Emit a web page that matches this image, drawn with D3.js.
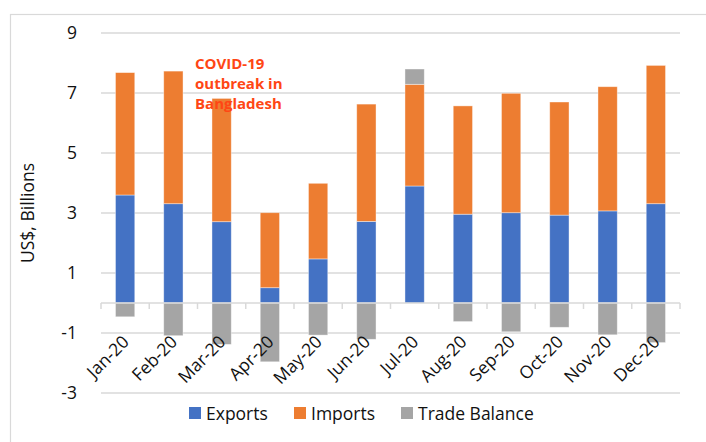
<!DOCTYPE html>
<html>
<head>
<meta charset="utf-8">
<script src="https://cdn.jsdelivr.net/npm/d3@7"></script>
<style>
  body { margin: 0; background: #fff; }
  svg { display: block; font-family: "Open Sans", sans-serif; }
</style>
</head>
<body>
<div id="chart"></div>
<script>
// values (US$ billions)
const months = ["Jan-20", "Feb-20", "Mar-20", "Apr-20", "May-20", "Jun-20",
  "Jul-20", "Aug-20", "Sep-20", "Oct-20", "Nov-20", "Dec-20"];
const exportsVals = [3.60, 3.31, 2.71, 0.51, 1.47, 2.72, 3.90, 2.96, 3.01, 2.93, 3.07, 3.31];
const importsVals = [4.08, 4.42, 4.11, 2.50, 2.52, 3.91, 3.39, 3.61, 3.98, 3.77, 4.14, 4.61];
const balanceVals = [-0.46, -1.09, -1.38, -1.96, -1.07, -1.21, 0.51, -0.62, -0.96, -0.81, -1.06, -1.32];
const yTicks = [-3, -1, 1, 3, 5, 7, 9];
const seriesNames = ["Exports", "Imports", "Trade Balance"];
const colors = ["#4472C4", "#ED7D31", "#A5A5A5"];
const note = ["COVID-19", "outbreak in", "Bangladesh"];

const width = 706, height = 442;
const margin = { left: 101, right: 26, top: 33, bottom: 49 };
const textColor = "#111";

const rows = months.map((m, i) => ({
  month: m,
  Exports: exportsVals[i],
  Imports: importsVals[i],
  "Trade Balance": balanceVals[i]
}));

const svg = d3.select("#chart").append("svg")
  .attr("width", width)
  .attr("height", height);

// outer chart border
svg.append("rect")
  .attr("x", 10.5).attr("y", 14.5)
  .attr("width", 720).attr("height", 460)
  .attr("fill", "none")
  .attr("stroke", "#d9d9d9")
  .attr("stroke-width", 1.2);

const x = d3.scaleBand()
  .domain(months)
  .range([margin.left, width - margin.right])
  .paddingInner(0.6)
  .paddingOuter(0.3);

const y = d3.scaleLinear()
  .domain([-3, 9])
  .range([height - margin.bottom, margin.top]);

// gridlines
svg.append("g")
  .selectAll("line")
  .data(yTicks)
  .join("line")
  .attr("x1", margin.left)
  .attr("x2", width - margin.right)
  .attr("y1", d => y(d))
  .attr("y2", d => y(d))
  .attr("stroke", "#d9d9d9")
  .attr("stroke-width", 1.5);

// y tick labels
svg.append("g")
  .attr("font-size", 17.5)
  .attr("fill", textColor)
  .attr("text-anchor", "end")
  .selectAll("text")
  .data(yTicks)
  .join("text")
  .attr("x", 77)
  .attr("y", d => y(d))
  .attr("dy", "0.36em")
  .text(d => d);

// y title
svg.append("text")
  .attr("transform", `translate(34,${(y(9) + y(-3)) / 2}) rotate(-90)`)
  .attr("text-anchor", "middle")
  .attr("font-size", 17.5)
  .attr("fill", textColor)
  .text("US$, Billions");

// stacked bars
const stack = d3.stack()
  .keys(seriesNames)
  .offset(d3.stackOffsetDiverging);
const series = stack(rows);

svg.append("g")
  .selectAll("g")
  .data(series)
  .join("g")
  .attr("fill", (d, i) => colors[i])
  .selectAll("rect")
  .data(d => d)
  .join("rect")
  .attr("x", d => x(d.data.month))
  .attr("width", x.bandwidth())
  .attr("y", d => y(Math.max(d[0], d[1])))
  .attr("height", d => Math.abs(y(d[0]) - y(d[1])))
  .attr("stroke", "#fff")
  .attr("stroke-opacity", 0.5)
  .attr("stroke-width", 0.8);

// zero axis line + category tick marks
const step = x.step();
const bounds = months.map(m => x(m) + x.bandwidth() / 2 - step / 2)
  .concat([x(months[months.length - 1]) + x.bandwidth() / 2 + step / 2]);

const axis = svg.append("g").attr("stroke", "#d9d9d9").attr("stroke-width", 1.5);
axis.append("line")
  .attr("x1", margin.left).attr("x2", width - margin.right)
  .attr("y1", y(0)).attr("y2", y(0));
axis.selectAll("line.tick")
  .data(bounds)
  .join("line")
  .attr("class", "tick")
  .attr("x1", d => d).attr("x2", d => d)
  .attr("y1", y(0)).attr("y2", y(0) + 6);

// rotated month labels
svg.append("g")
  .attr("font-size", 17.5)
  .attr("fill", textColor)
  .attr("text-anchor", "end")
  .selectAll("text")
  .data(months)
  .join("text")
  .attr("transform", d => `translate(${x(d) + x.bandwidth() / 2 + 5},${y(0) + 40}) rotate(-45)`)
  .text(d => d);

// annotation
const noteG = svg.append("g")
  .attr("font-size", 15)
  .attr("font-weight", "bold")
  .attr("fill", "#FF4614");
noteG.selectAll("text")
  .data(note)
  .join("text")
  .attr("x", 195)
  .attr("y", (d, i) => 69 + i * 20)
  .text(d => d);

// legend
const legend = svg.append("g")
  .attr("font-size", 17.5)
  .attr("fill", textColor)
  .selectAll("g")
  .data(seriesNames)
  .join("g")
  .attr("transform", (d, i) => `translate(${[189, 294, 401][i]},407)`);
legend.append("rect")
  .attr("width", 12).attr("height", 12)
  .attr("fill", (d, i) => colors[i]);
legend.append("text")
  .attr("x", 17).attr("y", 12.5)
  .text(d => d);
</script>
</body>
</html>
